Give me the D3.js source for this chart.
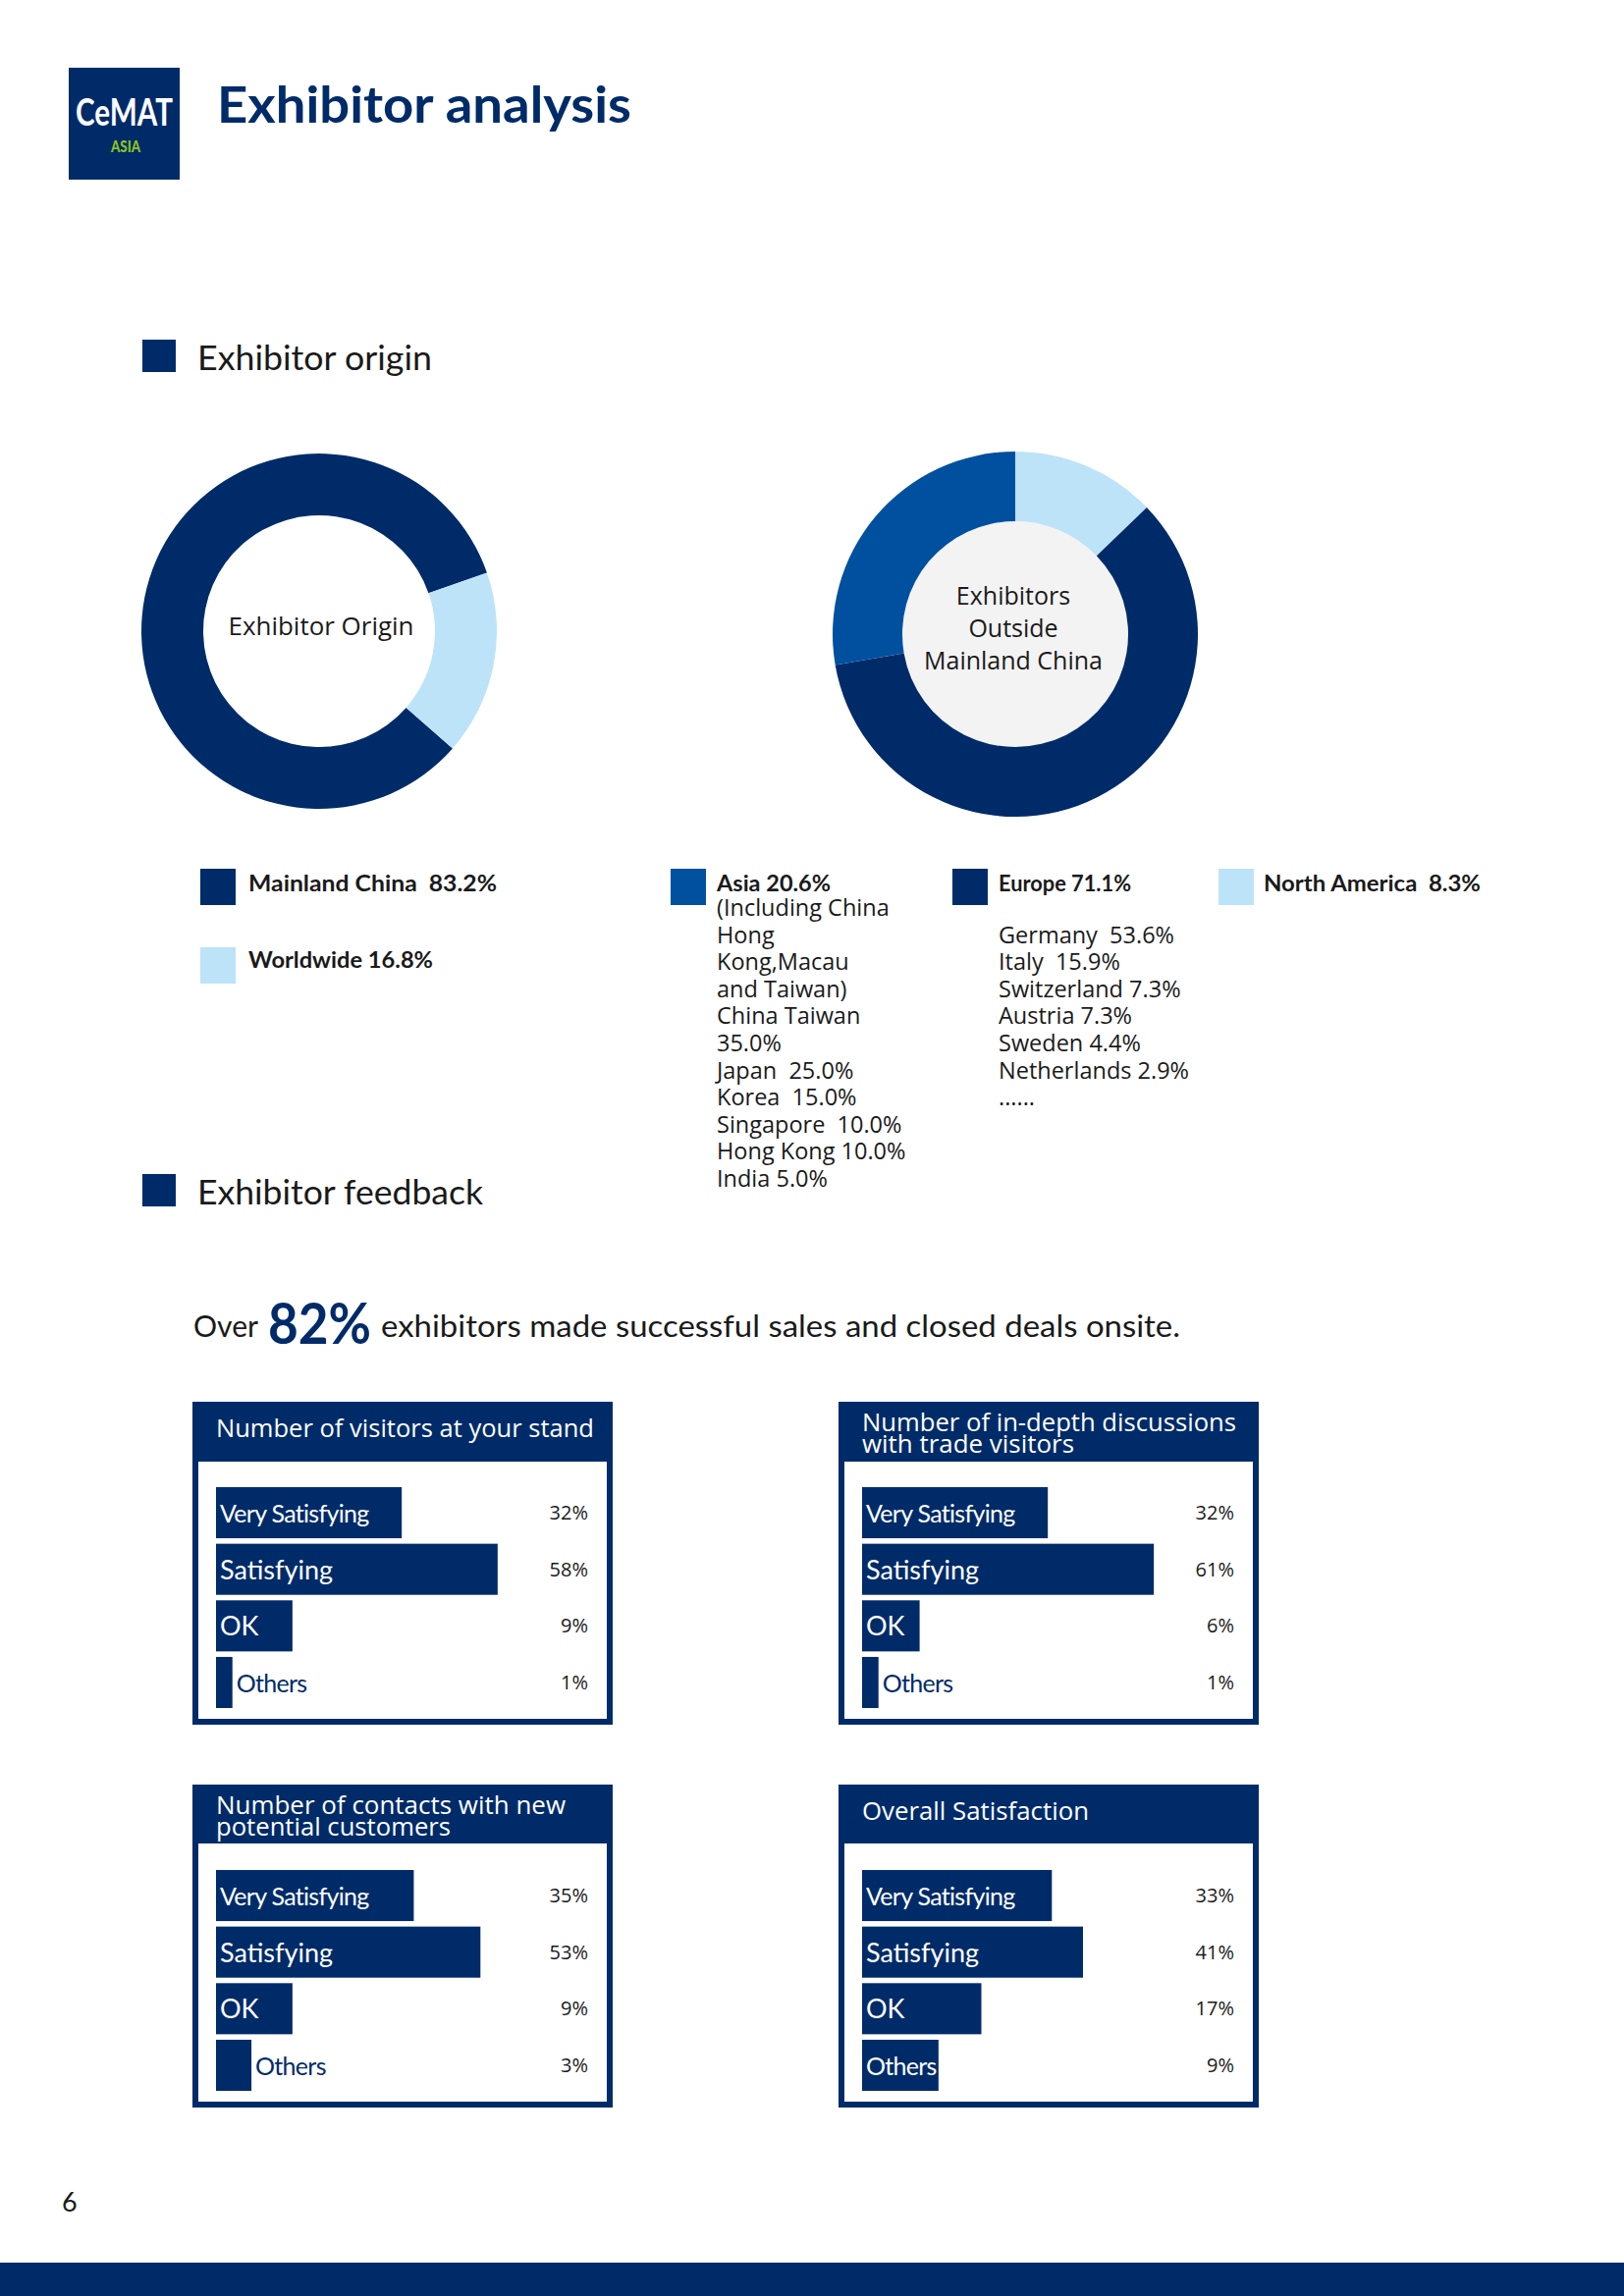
<!DOCTYPE html>
<html>
<head>
<meta charset="utf-8">
<script src="https://cdn.jsdelivr.net/npm/d3@7"></script>
<style>
  html, body { margin: 0; padding: 0; background: #ffffff; }
  svg { display: block; }
</style>
</head>
<body>
<div id="chart"></div>
<script>
// ---------------- DATA ----------------
const originLabels = ["Mainland China", "Worldwide"];
const originValues = [83.2, 16.8];
const originLegend = ["Mainland China  83.2%", "Worldwide 16.8%"];

// shares as drawn in the ring (north america, europe, asia)
const outsideLabels = ["North America", "Europe", "Asia"];
const outsideValues = [12.8, 59.5, 27.7];

const asiaHeading = "Asia 20.6%";
const asiaLines = ["(Including China", "Hong", "Kong,Macau", "and Taiwan)", "China Taiwan", "35.0%",
  "Japan  25.0%", "Korea  15.0%", "Singapore  10.0%", "Hong Kong 10.0%", "India 5.0%"];
const europeHeading = "Europe 71.1%";
const europeLines = ["", "Germany  53.6%", "Italy  15.9%", "Switzerland 7.3%", "Austria 7.3%",
  "Sweden 4.4%", "Netherlands 2.9%", "......"];
const northAmericaHeading = "North America  8.3%";

const ratingCategories = ["Very Satisfying", "Satisfying", "OK", "Others"];
const feedbackTitles = [
  ["Number of visitors at your stand"],
  ["Number of in-depth discussions", "with trade visitors"],
  ["Number of contacts with new", "potential customers"],
  ["Overall Satisfaction"]
];
const visitorsValues = [32, 58, 9, 1];
const discussionsValues = [32, 61, 6, 1];
const contactsValues = [35, 53, 9, 3];
const overallValues = [33, 41, 17, 9];

// ---------------- STYLE ----------------
const NAVY = "#002b69";
const MID = "#0050a0";
const LIGHT = "#bde3f8";
const INK = "#1a1a1a";
const FONT = "Lato, 'Open Sans', sans-serif";
const BODY = "'Open Sans', Lato, sans-serif";

const W = 1654, H = 2339;
const svg = d3.select("#chart").append("svg").attr("width", W).attr("height", H)
  .style("font-family", FONT);

function txt(g, o) {
  const t = g.append("text")
    .attr("x", o.x).attr("y", o.y)
    .attr("font-size", o.size)
    .attr("font-weight", o.weight || 400)
    .attr("fill", o.fill || INK)
    .attr("text-anchor", o.anchor || "start")
    .style("white-space", "pre")
    .text(o.text);
  if (o.family) t.style("font-family", o.family);
  if (o.width) t.attr("textLength", o.width).attr("lengthAdjust", "spacingAndGlyphs");
  return t;
}

// ---------------- HEADER ----------------
svg.append("rect").attr("x", 70).attr("y", 69).attr("width", 113).attr("height", 114).attr("fill", NAVY);
txt(svg, {x: 77, y: 128, text: "CeMAT", size: 38, weight: 700, fill: "#fff", width: 99});
txt(svg, {x: 113, y: 155, text: "ASIA", size: 17, weight: 900, fill: "#8dc21f", width: 30});
txt(svg, {x: 221, y: 125, text: "Exhibitor analysis", size: 52, weight: 700, fill: NAVY, width: 422});

// section headings
[[346, "Exhibitor origin", 239, 377], [1196, "Exhibitor feedback", 291, 1227]].forEach(([y, t, w, by]) => {
  svg.append("rect").attr("x", 145).attr("y", y).attr("width", 34).attr("height", 33).attr("fill", NAVY);
  txt(svg, {x: 201, y: by, text: t, size: 35, width: w});
});

// ---------------- DONUT 1 ----------------
const deg = Math.PI / 180;
{
  const g = svg.append("g").attr("transform", "translate(325,643)");
  const pie = d3.pie().sort(null).startAngle(131.3 * deg).endAngle(131.3 * deg + 2 * Math.PI);
  const arc = d3.arc().innerRadius(118).outerRadius(181);
  const col = d3.scaleOrdinal().domain(originLabels).range([NAVY, LIGHT]);
  g.selectAll("path").data(pie(originValues)).join("path")
    .attr("d", arc).attr("fill", (d, i) => col(originLabels[i]));
  txt(g, {x: 2, y: 4, text: "Exhibitor Origin", size: 26, anchor: "middle", width: 189, family: BODY});
}

// ---------------- DONUT 2 ----------------
{
  const g = svg.append("g").attr("transform", "translate(1034,646)");
  const pie = d3.pie().sort(null);
  const arc = d3.arc().innerRadius(115).outerRadius(186);
  const col = d3.scaleOrdinal().domain(outsideLabels).range([LIGHT, NAVY, MID]);
  g.append("circle").attr("r", 115).attr("fill", "#f3f3f3");
  g.selectAll("path").data(pie(outsideValues)).join("path")
    .attr("d", arc).attr("fill", (d, i) => col(outsideLabels[i]));
  ["Exhibitors", "Outside", "Mainland China"].forEach((t, i) =>
    txt(g, {x: -2, y: -30 + i * 32.8, text: t, size: 25, anchor: "middle", family: BODY}));
}

// ---------------- LEGENDS ----------------
function swatch(x, y, c) {
  svg.append("rect").attr("x", x).attr("y", y).attr("width", 36).attr("height", 37).attr("fill", c);
}
swatch(204, 885, NAVY);
txt(svg, {x: 253, y: 908, text: originLegend[0], size: 22, weight: 700, width: 253});
swatch(204, 965, LIGHT);
txt(svg, {x: 253, y: 986, text: originLegend[1], size: 22, weight: 700, width: 188});

const LSTEP = 27.6;
swatch(683, 885, MID);
txt(svg, {x: 730, y: 908, text: asiaHeading, size: 22, weight: 700, width: 116});
asiaLines.forEach((t, i) => txt(svg, {x: 730, y: 933 + i * LSTEP, text: t, size: 23.5, family: BODY}));

swatch(970, 885, NAVY);
txt(svg, {x: 1017, y: 908, text: europeHeading, size: 22, weight: 700, width: 135});
europeLines.forEach((t, i) => txt(svg, {x: 1017, y: 933 + i * LSTEP, text: t, size: 23.5, family: BODY}));

swatch(1241, 885, LIGHT);
txt(svg, {x: 1287, y: 908, text: northAmericaHeading, size: 22, weight: 700, width: 221});

// ---------------- HEADLINE ----------------
txt(svg, {x: 197, y: 1362, text: "Over", size: 31, width: 66});
txt(svg, {x: 273, y: 1369, text: "82%", size: 57, weight: 700, fill: NAVY, width: 105});
txt(svg, {x: 388, y: 1362, text: "exhibitors made successful sales and closed deals onsite.", size: 31, width: 814});

// ---------------- FEEDBACK BOXES ----------------
const boxes = [
  {x: 196, y: 1428, title: feedbackTitles[0], tw: [385], values: visitorsValues, hh: 61},
  {x: 854, y: 1428, title: feedbackTitles[1], tw: [381, 216], values: discussionsValues, hh: 61},
  {x: 196, y: 1818, title: feedbackTitles[2], tw: [356, 239], values: contactsValues, hh: 60},
  {x: 854, y: 1818, title: feedbackTitles[3], tw: [231], values: overallValues, hh: 60}
];
const BW = 428, BH = 329, BORDER = 6;
const xBar = d3.scalePow().exponent(0.7).domain([0, 100]).range([0, 420]);

boxes.forEach(b => {
  const g = svg.append("g").attr("transform", `translate(${b.x},${b.y})`);
  g.append("rect").attr("width", BW).attr("height", BH).attr("fill", NAVY);
  g.append("rect").attr("x", BORDER).attr("y", b.hh).attr("width", BW - 2 * BORDER)
    .attr("height", BH - b.hh - BORDER).attr("fill", "#fff");
  if (b.title.length === 1) {
    txt(g, {x: 24, y: 36, text: b.title[0], size: 26, fill: "#fff", width: b.tw[0], family: BODY});
  } else {
    b.title.forEach((t, i) => txt(g, {x: 24, y: 30 + i * 22, text: t, size: 25, fill: "#fff", width: b.tw[i], family: BODY}));
  }
  const y = d3.scaleBand().domain(ratingCategories).range([87, 312]).paddingInner(0.097);
  const bx = 24;
  ratingCategories.forEach((c, i) => {
    const v = b.values[i];
    const w = xBar(v);
    g.append("rect").attr("x", bx).attr("y", y(c)).attr("width", w).attr("height", y.bandwidth()).attr("fill", NAVY);
    const inside = v >= 5;
    const condensed = c === "Very Satisfying" || c === "Others";
    txt(g, {x: inside ? bx + 4 : bx + w + 4, y: y(c) + y.bandwidth() / 2 + 10, text: c,
      size: condensed ? 25 : 27, fill: inside ? "#fff" : NAVY})
      .attr("letter-spacing", condensed ? -0.7 : 0);
    txt(g, {x: BW - 25, y: y(c) + y.bandwidth() / 2 + 7, text: v + "%", size: 20, anchor: "end", family: BODY});
  });
});

// ---------------- FOOTER ----------------
txt(svg, {x: 63, y: 2253, text: "6", size: 27});
svg.append("rect").attr("x", 0).attr("y", 2305).attr("width", W).attr("height", H - 2305).attr("fill", NAVY);
</script>
</body>
</html>
